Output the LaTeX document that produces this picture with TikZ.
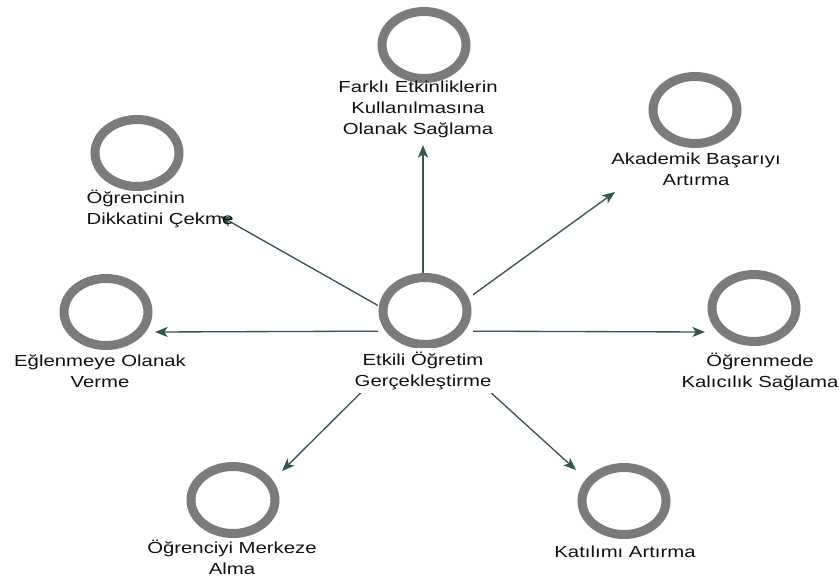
\documentclass[tikz,border=0pt]{standalone}
\usepackage{fontspec}
\setmainfont{Liberation Sans}[FakeStretch=1.27]
\usetikzlibrary{arrows.meta,shapes.geometric,backgrounds}
\definecolor{ringgray}{HTML}{7B7B7B}
\definecolor{linkgreen}{HTML}{35564E}
\definecolor{inkdark}{HTML}{111111}

\begin{document}
\begin{tikzpicture}[x=0.75pt,y=-0.75pt,
  ring/.style={ellipse, draw=ringgray, line width=6.75pt, fill=white,
    minimum width=63pt, minimum height=50.25pt, inner sep=0pt},
  backdrop/.style={rectangle, fill=white, minimum width=71.25pt,
    minimum height=57pt, inner sep=0pt},
  caption/.style={align=center, text=inkdark,
    font=\fontsize{12}{15.75}\selectfont, inner sep=1pt},
  link/.style={draw=linkgreen, line width=1pt,
    -{Stealth[length=9.5pt,width=7.5pt,inset=2.5pt]}}
]
\useasboundingbox (0,0) rectangle (839,579);

% central concept
\node[backdrop] (c0box) at (425,311) {};
\node[ring] (c0) at (425,311) {};
\node[caption, fill=white, inner sep=3pt] (t0) at (423,370.5) {Etkili Öğretim\\Gerçekleştirme};

% surrounding concepts
\node[ring] (c1) at (424,45) {};
\node[caption] (t1) at (418,109) {Farklı Etkinliklerin\\Kullanılmasına\\Olanak Sağlama};

\node[ring] (c2) at (695,110) {};
\node[caption] (t2) at (696,169) {Akademik Başarıyı\\Artırma};

\node[ring] (c3) at (137,153) {};
\node[caption, align=left, anchor=west] (t3) at (85,209) {Öğrencinin\\Dikkatini Çekme};

\node[ring] (c4) at (106,312) {};
\node[caption] (t4) at (100,371.5) {Eğlenmeye Olanak\\Verme};

\node[ring] (c5) at (754,308) {};
\node[caption] (t5) at (760,371.5) {Öğrenmede\\Kalıcılık Sağlama};

\node[ring] (c6) at (233,500) {};
\node[caption] (t6) at (232,557.5) {Öğrenciyi Merkeze\\Alma};

\node[ring] (c7) at (624,501) {};
\node[caption] (t7) at (625,552) {Katılımı Artırma};

% connector ends
\coordinate (hub) at (423,331);
\coordinate (e1) at (423,145);
\coordinate (e2) at (615,192);
\coordinate (e3) at (220,216);
\coordinate (e4) at (155,332);
\coordinate (e5) at (705,332);
\coordinate (e6) at (282,471);
\coordinate (e7) at (576,470);

\begin{scope}[on background layer]
  \foreach \e in {e1,e2,e3,e4,e5,e6,e7}
    \draw[link] (hub) -- (\e);
\end{scope}
\end{tikzpicture}
\end{document}
